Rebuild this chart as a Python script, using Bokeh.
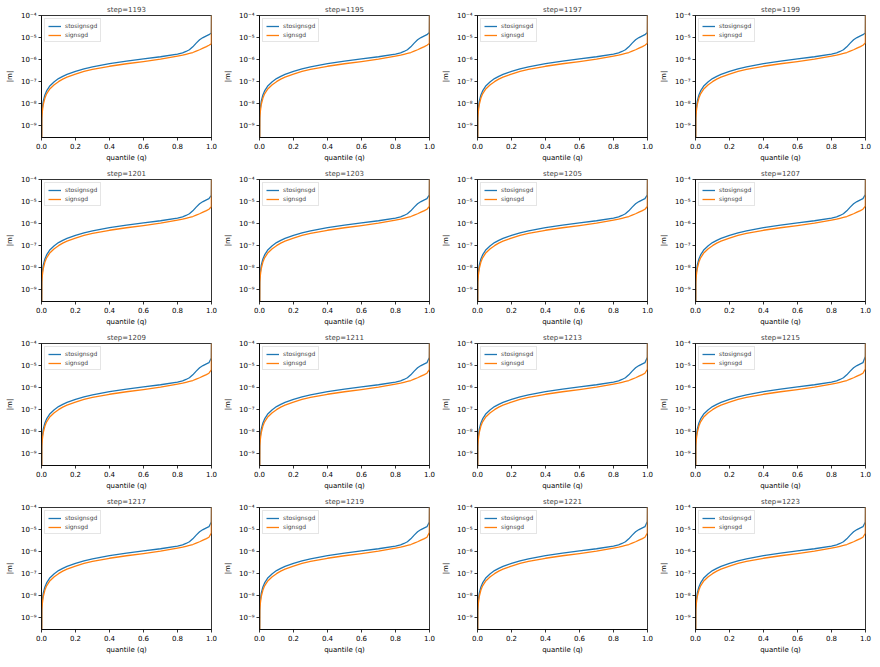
from bokeh.plotting import figure
from bokeh.layouts import gridplot
from bokeh.models import Range1d, FixedTicker, CustomJSTickFormatter
from bokeh.embed import file_html
from bokeh.resources import INLINE

STEPS = [1193, 1195, 1197, 1199, 1201, 1203, 1205, 1207,
         1209, 1211, 1213, 1215, 1217, 1219, 1221, 1223]

Q = [0.0, 0.002, 0.005, 0.01, 0.02, 0.03, 0.05, 0.075, 0.1, 0.125, 0.15,
     0.175, 0.2, 0.25, 0.3, 0.4, 0.5, 0.6, 0.7, 0.8, 0.83, 0.85, 0.87, 0.89,
     0.91, 0.93, 0.95, 0.97, 0.985, 0.999, 1.0]

STO_BASE = [1e-12, 3.2e-9, 6.3e-9, 1.26e-8, 2.5e-8, 3.8e-8, 6.6e-8, 1.0e-7,
            1.38e-7, 1.74e-7, 2.14e-7, 2.5e-7, 2.95e-7, 3.8e-7, 4.7e-7,
            6.6e-7, 8.5e-7, 1.07e-6, 1.35e-6, 1.78e-6, 2.04e-6, 2.34e-6,
            2.8e-6, 3.8e-6, 5.6e-6, 7.9e-6, 1.0e-5, 1.2e-5, 1.35e-5]
SIGN_BASE = [1e-12, 2.2e-9, 4.5e-9, 9e-9, 1.8e-8, 2.8e-8, 4.8e-8, 7.3e-8,
             1.0e-7, 1.3e-7, 1.6e-7, 1.9e-7, 2.2e-7, 2.9e-7, 3.6e-7, 5.0e-7,
             6.5e-7, 8.2e-7, 1.05e-6, 1.45e-6, 1.6e-6, 1.75e-6, 1.9e-6,
             2.1e-6, 2.45e-6, 2.8e-6, 3.3e-6, 3.9e-6, 4.5e-6]

STO_END = [1.6e-5, 1.7e-5, 1.7e-5, 1.6e-5, 1.9e-5, 2.0e-5, 2.0e-5, 2.1e-5,
           2.2e-5, 2.3e-5, 2.4e-5, 2.6e-5, 2.2e-5, 2.2e-5, 2.3e-5, 2.2e-5]
SIGN_END = [5.2e-6, 5.4e-6, 5.5e-6, 5.7e-6, 5.8e-6, 6.0e-6, 6.0e-6, 6.2e-6,
            6.4e-6, 6.6e-6, 6.8e-6, 7.0e-6, 7.0e-6, 7.3e-6, 7.0e-6, 6.8e-6]
STO_MAX = [3e-4] * 16
SIGN_MAX = [3e-4] * 16

X_TICKS = [0.0, 0.2, 0.4, 0.6, 0.8, 1.0]
Y_TICKS = [1e-9, 1e-8, 1e-7, 1e-6, 1e-5, 1e-4]

BLUE = "#1f77b4"
ORANGE = "#ff7f0e"
FONT = "DejaVu Sans"

yfmt_code = """
const sup = {'-':'\u207b','0':'\u2070','1':'\u00b9','2':'\u00b2','3':'\u00b3','4':'\u2074','5':'\u2075','6':'\u2076','7':'\u2077','8':'\u2078','9':'\u2079'};
const e = Math.round(Math.log10(tick)).toString();
let s = '';
for (const c of e) { s += sup[c]; }
return '10' + s;
"""
xfmt_code = "return tick.toFixed(1);"

figs = []
for i, step in enumerate(STEPS):
    p = figure(output_backend="svg", toolbar_location=None, y_axis_type="log",
               frame_width=170, frame_height=122,
               min_border_left=41, min_border_right=7,
               min_border_top=15, min_border_bottom=27,
               x_range=Range1d(0, 1), y_range=Range1d(10 ** -9.53, 1e-4),
               title="step=%d" % step)
    p.title.text_font = FONT
    p.title.text_font_size = "7px"
    p.title.text_font_style = "normal"
    p.title.align = "center"
    p.title.standoff = 4
    p.title.offset = 0

    sto = STO_BASE + [STO_END[i], STO_MAX[i]]
    sign = SIGN_BASE + [SIGN_END[i], SIGN_MAX[i]]
    p.line(Q, sto, color=BLUE, line_width=1.3, legend_label="stosignsgd",
           line_join="round")
    p.line(Q, sign, color=ORANGE, line_width=1.3, legend_label="signsgd",
           line_join="round")

    p.xgrid.visible = False
    p.ygrid.visible = False
    p.outline_line_color = "black"
    p.outline_line_width = 0.8
    p.outline_line_alpha = 1.0

    for ax in (p.xaxis[0], p.yaxis[0]):
        ax.axis_line_color = "black"
        ax.axis_line_width = 0.8
        ax.major_tick_line_color = "black"
        ax.major_tick_line_width = 0.8
        ax.major_tick_out = 3
        ax.major_tick_in = 0
        ax.minor_tick_line_color = None
        ax.major_label_text_font = FONT
        ax.major_label_text_font_size = "7px"
        ax.major_label_text_color = "black"
        ax.axis_label_text_font = FONT
        ax.axis_label_text_font_size = "7px"
        ax.axis_label_text_font_style = "normal"
        ax.axis_label_text_color = "black"
        ax.major_label_standoff = 2

    p.xaxis.ticker = FixedTicker(ticks=X_TICKS)
    p.xaxis.formatter = CustomJSTickFormatter(code=xfmt_code)
    p.xaxis.axis_label = "quantile (q)"
    p.xaxis.axis_label_standoff = 2
    p.yaxis.ticker = FixedTicker(ticks=Y_TICKS)
    p.yaxis.formatter = CustomJSTickFormatter(code=yfmt_code)
    p.yaxis.axis_label = "|m|"
    p.yaxis.axis_label_standoff = 4

    lg = p.legend[0]
    lg.location = "top_left"
    lg.label_text_font = FONT
    lg.label_text_font_size = "6px"
    lg.glyph_width = 13
    lg.glyph_height = 6
    lg.label_height = 6
    lg.label_standoff = 4
    lg.spacing = 2
    lg.padding = 3
    lg.margin = 3
    lg.border_line_color = "#cccccc"
    lg.border_line_width = 0.8
    lg.background_fill_alpha = 0.8

    figs.append(p)

grid = gridplot(figs, ncols=4, toolbar_location=None)

open("out.html", "w").write(file_html(grid, INLINE))
